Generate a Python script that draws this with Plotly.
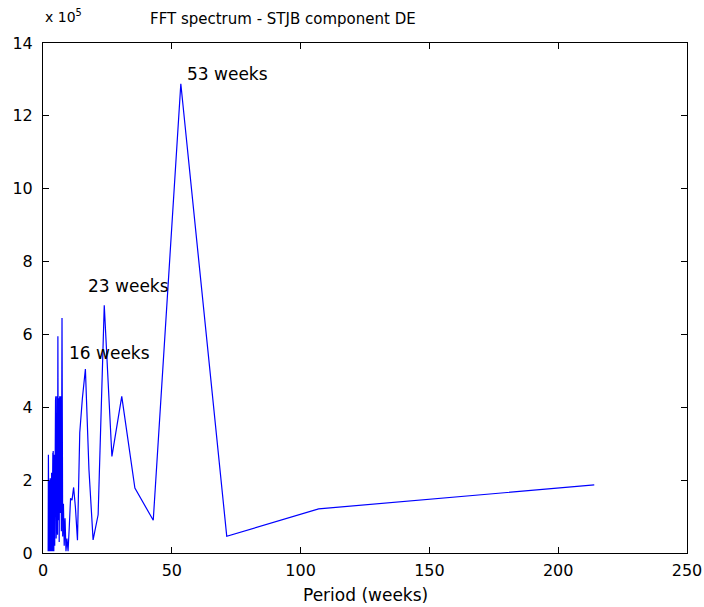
import plotly.graph_objects as go

# Period (weeks) of each FFT bin (longest period first)
period_weeks = [
    214.00, 107.00, 71.33, 53.50, 42.80, 35.67, 30.57, 26.75, 23.78, 21.40,
    19.45, 17.83, 16.46, 15.29, 14.27, 13.38, 12.59, 11.89, 11.26, 10.70,
    10.19, 9.73, 9.30, 8.92, 8.56, 8.23, 7.93, 7.64, 7.38, 7.13,
    6.90, 6.69, 6.48, 6.29, 6.11, 5.94, 5.78, 5.63, 5.49, 5.35,
    5.22, 5.10, 4.98, 4.86, 4.76, 4.65, 4.55, 4.46, 4.37, 4.28,
    4.20, 4.12, 4.04, 3.96, 3.89, 3.82, 3.75, 3.69, 3.63, 3.57,
    3.51, 3.45, 3.40, 3.34, 3.29, 3.24, 3.19, 3.15, 3.10, 3.06,
    3.01, 2.97, 2.93, 2.89, 2.85, 2.82, 2.78, 2.74, 2.71, 2.68,
    2.64, 2.61, 2.58, 2.55, 2.52, 2.49, 2.46, 2.43, 2.40, 2.38,
    2.35, 2.33, 2.30, 2.28, 2.25, 2.23, 2.21, 2.18, 2.16, 2.14,
    2.12, 2.10, 2.08, 2.06, 2.04, 2.02, 2.00,
]

# FFT magnitude, in units of 1e5
magnitude_e5 = [
    1.87, 1.21, 0.46, 12.88, 0.90, 1.78, 4.30, 2.65, 6.80, 1.05,
    0.36, 2.30, 5.05, 4.25, 3.30, 0.35, 1.25, 1.80, 1.45, 1.50,
    0.70, 0.05, 0.40, 0.05, 0.95, 0.20, 1.35, 0.45, 6.45, 0.60,
    4.30, 1.10, 4.30, 0.30, 4.25, 0.90, 5.95, 0.50, 4.30, 1.20,
    4.25, 0.40, 4.30, 4.20, 0.30, 2.75, 0.20, 2.40, 1.40, 2.70,
    0.05, 2.10, 0.60, 2.80, 0.05, 2.75, 0.90, 2.50, 0.30, 2.20,
    0.05, 1.60, 1.10, 2.20, 0.40, 1.95, 0.05, 2.00, 0.80, 1.70,
    0.25, 2.05, 0.05, 1.50, 1.00, 1.95, 0.30, 1.80, 0.05, 2.00,
    0.60, 1.70, 0.20, 1.95, 0.05, 1.60, 1.05, 2.00, 0.30, 1.85,
    0.05, 1.70, 0.70, 2.05, 0.05, 1.90, 0.40, 1.75, 0.05, 2.00,
    0.80, 2.70, 0.05, 1.90, 0.30, 2.60, 0.05, 3.30,
][:len(period_weeks)]

peak_labels = ["53 weeks", "23 weeks", "16 weeks"]
peak_label_x = [55.0, 16.6, 9.2]
peak_label_y = [13.16, 7.32, 5.48]

x_ticks = [0, 50, 100, 150, 200, 250]
y_ticks = [0, 2, 4, 6, 8, 10, 12, 14]

title_text = "FFT spectrum - STJB component DE"
x_title = "Period (weeks)"

FONT = "DejaVu Sans, Liberation Sans, Arial, sans-serif"

fig = go.Figure()
fig.add_trace(go.Scatter(
    x=period_weeks, y=magnitude_e5, mode="lines",
    line=dict(color="#0000FF", width=1.2), showlegend=False,
))

for t, x, y in zip(peak_labels, peak_label_x, peak_label_y):
    fig.add_annotation(x=x, y=y, text=t, showarrow=False, xanchor="left",
                       yanchor="middle", font=dict(family=FONT, size=17, color="black"))

fig.add_annotation(xref="paper", yref="paper", x=0.0, y=1.052, xanchor="left",
                   yanchor="middle", text="x 10<sup>5</sup>", showarrow=False,
                   font=dict(family=FONT, size=14, color="black"))
fig.add_annotation(xref="paper", yref="paper", x=0.372, y=1.047, xanchor="center",
                   yanchor="middle", text=title_text, showarrow=False,
                   font=dict(family=FONT, size=15, color="black"))
fig.add_annotation(xref="paper", yref="paper", x=0.5, y=-0.083, xanchor="center",
                   yanchor="middle", text=x_title, showarrow=False,
                   font=dict(family=FONT, size=17, color="black"))

axis_common = dict(
    showline=True, linecolor="black", linewidth=1, mirror="ticks",
    ticks="inside", ticklen=6, tickcolor="black", tickwidth=1,
    showgrid=False, zeroline=False, automargin=False,
    tickfont=dict(family=FONT, size=16, color="black"),
)
fig.update_xaxes(range=[0, 250], tickvals=x_ticks, ticklabelstandoff=3,
                 ticklabeloverflow="allow", **axis_common)
fig.update_yaxes(range=[0, 14], tickvals=y_ticks, ticklabelstandoff=6, **axis_common)

fig.update_layout(
    width=704, height=607,
    margin=dict(l=43, r=17, t=43, b=54),
    paper_bgcolor="white", plot_bgcolor="white",
)

fig.write_html("out.html")
